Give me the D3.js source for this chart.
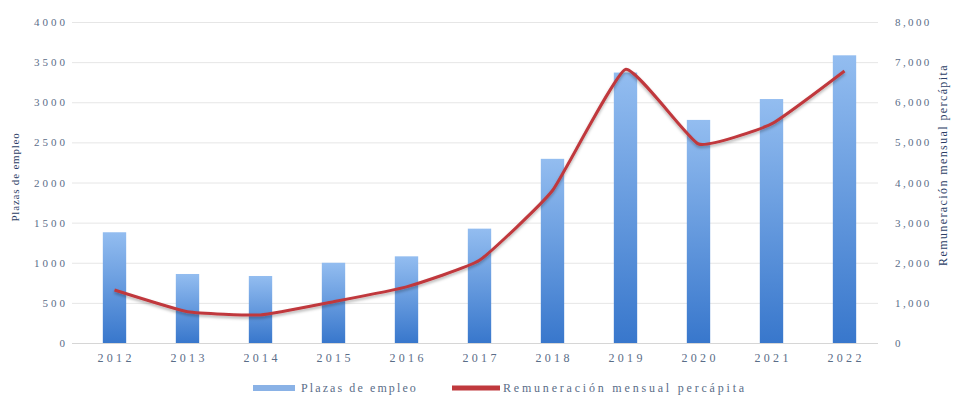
<!DOCTYPE html>
<html>
<head>
<meta charset="utf-8">
<script src="https://cdn.jsdelivr.net/npm/d3@7"></script>
<style>
  body { margin: 0; background: #fff; }
  text { font-family: "Liberation Serif", "DejaVu Serif", serif; }
</style>
</head>
<body>
<svg width="961" height="396"></svg>
<script>
const years = ['2012','2013','2014','2015','2016','2017','2018','2019','2020','2021','2022'];
const plazas = [1380, 860, 835, 1000, 1080, 1425, 2295, 3370, 2780, 3040, 3585];
const remuneracion = [1320, 780, 700, 1030, 1400, 2060, 3800, 6820, 4960, 5460, 6780];
const leftTicks = [0, 500, 1000, 1500, 2000, 2500, 3000, 3500, 4000];
const rightTicks = [0, 1000, 2000, 3000, 4000, 5000, 6000, 7000, 8000];

const svg = d3.select('svg');
const plotTop = 22, plotBottom = 343, plotLeft = 78, plotRight = 881;
const labelColor = '#5a6d88';

const x = d3.scaleBand().domain(years).range([plotLeft, plotRight]).paddingInner(0.68).paddingOuter(0.34);
const yL = d3.scaleLinear().domain([0, 4000]).range([plotBottom, plotTop]);
const yR = d3.scaleLinear().domain([0, 8000]).range([plotBottom, plotTop]);

const defs = svg.append('defs');
const grad = defs.append('linearGradient')
    .attr('id', 'barGrad').attr('x1', 0).attr('y1', 0).attr('x2', 0).attr('y2', 1);
grad.append('stop').attr('offset', '0%').attr('stop-color', '#93bdf0');
grad.append('stop').attr('offset', '100%').attr('stop-color', '#3877cc');

const shadow = defs.append('filter').attr('id', 'shadow')
    .attr('x', '-5%').attr('y', '-20%').attr('width', '110%').attr('height', '140%');
shadow.append('feDropShadow').attr('dx', 0).attr('dy', 2).attr('stdDeviation', 1.5)
    .attr('flood-color', '#000').attr('flood-opacity', 0.3);

// gridlines
svg.append('g')
  .selectAll('line')
  .data(leftTicks)
  .join('line')
    .attr('x1', 72).attr('x2', 878)
    .attr('y1', d => yL(d) + 0.5).attr('y2', d => yL(d) + 0.5)
    .attr('stroke', d => d === 0 ? '#d6d6d6' : '#e6e6e6')
    .attr('stroke-width', 1);

// left axis
const axL = svg.append('g')
    .attr('transform', `translate(68,0)`)
    .call(d3.axisLeft(yL).tickValues(leftTicks).tickSize(0).tickPadding(0).tickFormat(d3.format('d')));
axL.select('.domain').remove();
axL.selectAll('text').attr('fill', labelColor).attr('font-size', 11).attr('letter-spacing', 3);

// right axis
const axR = svg.append('g')
    .attr('transform', `translate(895,0)`)
    .call(d3.axisRight(yR).tickValues(rightTicks).tickSize(0).tickPadding(0).tickFormat(d3.format(',')));
axR.select('.domain').remove();
axR.selectAll('text').attr('fill', labelColor).attr('font-size', 11).attr('letter-spacing', 2.4);

// x axis
const axX = svg.append('g')
    .attr('transform', `translate(0,${plotBottom + 8})`)
    .call(d3.axisBottom(x).tickSize(0).tickPadding(2));
axX.select('.domain').remove();
axX.selectAll('text').attr('fill', labelColor).attr('font-size', 12)
    .attr('letter-spacing', 3.3).attr('dx', 1.6);

// bars
svg.append('g')
  .selectAll('rect')
  .data(years)
  .join('rect')
    .attr('x', d => x(d))
    .attr('width', x.bandwidth())
    .attr('y', (d, i) => yL(plazas[i]))
    .attr('height', (d, i) => plotBottom - yL(plazas[i]))
    .attr('fill', 'url(#barGrad)');

// line
const line = d3.line()
    .x((d, i) => x(years[i]) + x.bandwidth() / 2)
    .y(d => yR(d))
    .curve(d3.curveCardinal.tension(0.6));

svg.append('path')
    .datum(remuneracion)
    .attr('d', line)
    .attr('fill', 'none')
    .attr('stroke', '#c0393d')
    .attr('stroke-width', 3)
    .attr('stroke-linejoin', 'round')
    .attr('filter', 'url(#shadow)');

// axis titles
svg.append('text')
    .attr('transform', 'translate(19,177) rotate(-90)')
    .attr('text-anchor', 'middle')
    .attr('font-size', 11)
    .attr('letter-spacing', 0.8)
    .attr('fill', '#2c3e66')
    .text('Plazas de empleo');

svg.append('text')
    .attr('transform', 'translate(947,165) rotate(-90)')
    .attr('text-anchor', 'middle')
    .attr('font-size', 12)
    .attr('letter-spacing', 1.4)
    .attr('fill', '#2c3e66')
    .text('Remuneración mensual percápita');

// legend
const legend = svg.append('g').attr('transform', 'translate(0,388)');
legend.append('rect')
    .attr('x', 253).attr('y', -3).attr('width', 42).attr('height', 6)
    .attr('fill', '#8ab2e6');
legend.append('text')
    .attr('x', 301).attr('y', 3.5)
    .attr('font-size', 12).attr('fill', labelColor).attr('letter-spacing', 2.1)
    .text('Plazas de empleo');
legend.append('line')
    .attr('x1', 452).attr('x2', 500).attr('y1', 0).attr('y2', 0)
    .attr('stroke', '#c0393d').attr('stroke-width', 5);
legend.append('text')
    .attr('x', 503).attr('y', 3.5)
    .attr('font-size', 12).attr('fill', labelColor).attr('letter-spacing', 2.8)
    .text('Remuneración mensual  percápita');
</script>
</body>
</html>
